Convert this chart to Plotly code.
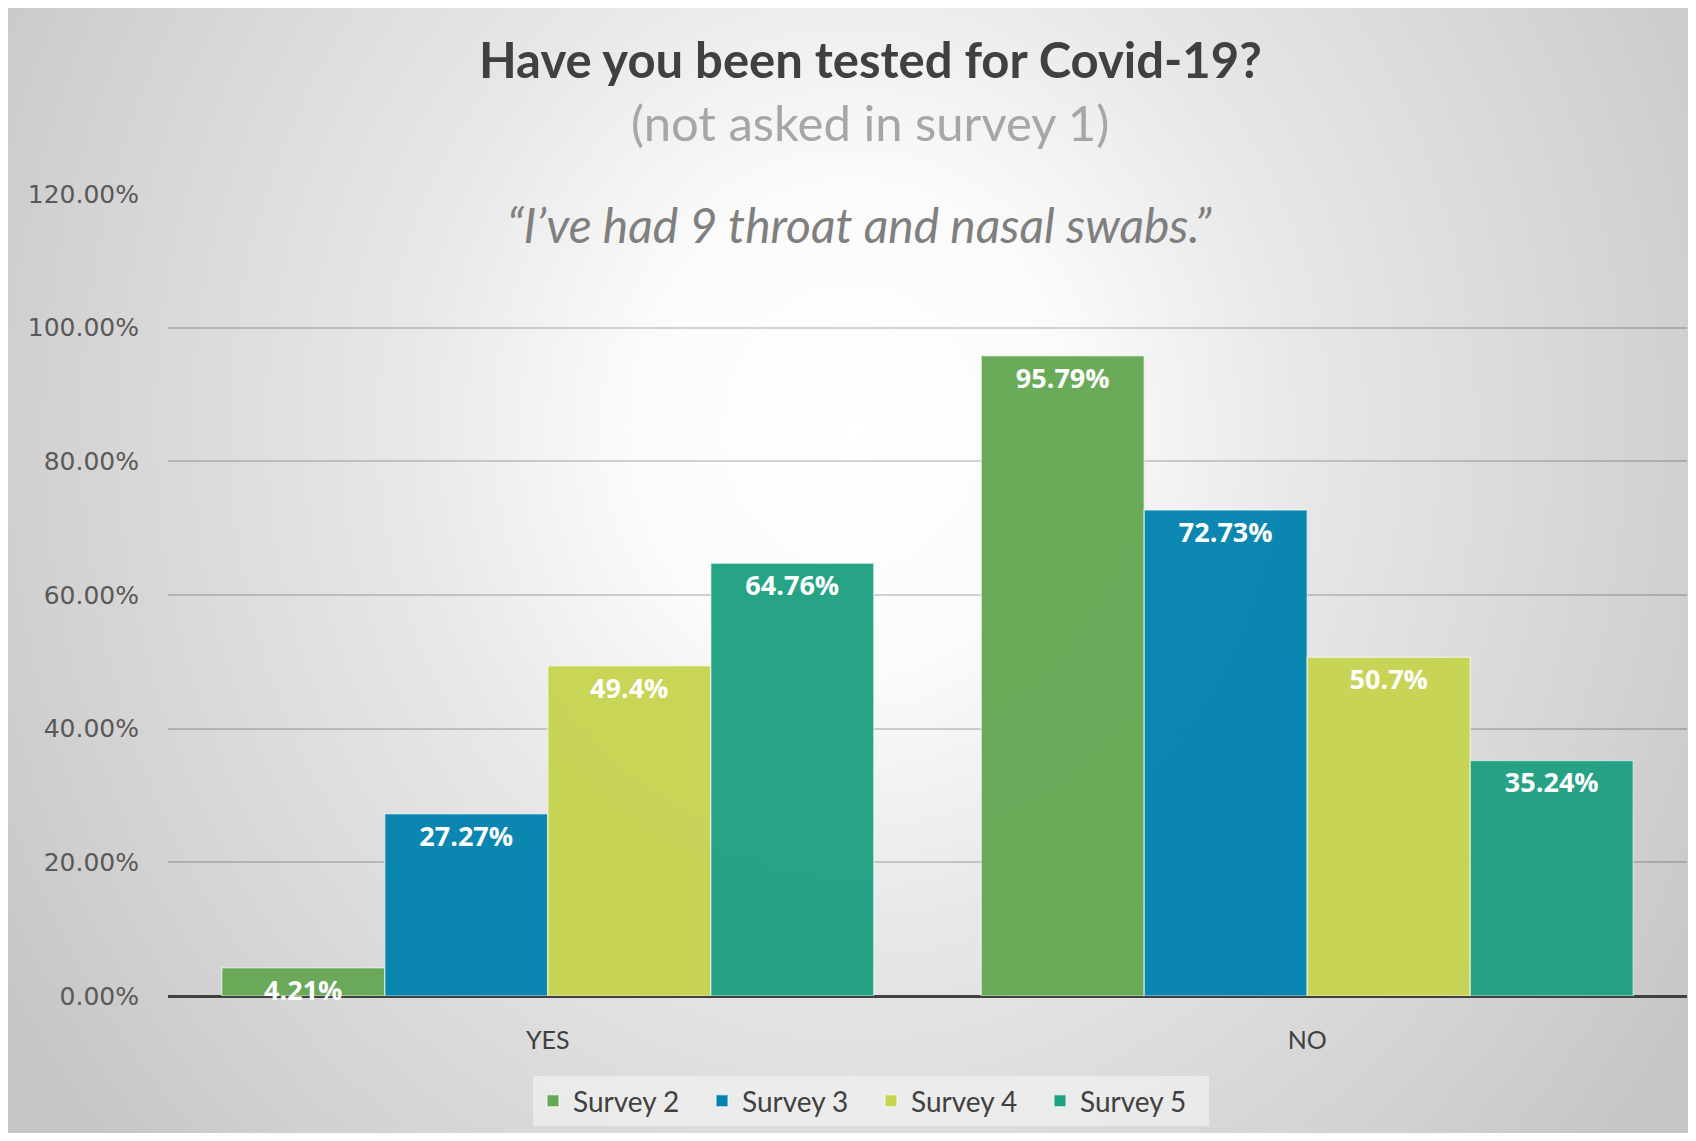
import base64
import plotly.graph_objects as go

# ---- data ----
categories = ["YES", "NO"]
series_names = ["Survey 2", "Survey 3", "Survey 4", "Survey 5"]
survey2 = [4.21, 95.79]
survey3 = [27.27, 72.73]
survey4 = [49.4, 50.7]
survey5 = [64.76, 35.24]
y_ticks = [0, 20, 40, 60, 80, 100, 120]

title_text = "Have you been tested for Covid-19?"
subtitle_text = "(not asked in survey 1)"
quote_text = "\u201cI\u2019ve had 9 throat and nasal swabs.\u201d"

colors = ["#65a854", "#0283af", "#c7d451", "#1fa182"]

W, H = 1680, 1125
ML, MR, MT, MB = 160, 1, 186, 137
PW, PH = W - ML - MR, H - MT - MB

# background gradient as svg image
svg = f'''<svg xmlns="http://www.w3.org/2000/svg" width="{W}" height="{H}" viewBox="0 0 {W} {H}" preserveAspectRatio="none">
<defs><radialGradient id="g" gradientUnits="userSpaceOnUse" cx="0" cy="0" r="1" gradientTransform="translate(845,420) scale(990,1100)">
<stop offset="0" stop-color="#ffffff"/>
<stop offset="0.22" stop-color="#fbfbfb"/>
<stop offset="0.45" stop-color="#e8e8e8"/>
<stop offset="0.85" stop-color="#d0d0d0"/>
<stop offset="1" stop-color="#c6c6c6"/>
</radialGradient></defs>
<rect x="0" y="0" width="{W}" height="{H}" fill="url(#g)"/>
</svg>'''
src = "data:image/svg+xml;base64," + base64.b64encode(svg.encode()).decode()

fig = go.Figure()
for name, vals, col in zip(series_names, [survey2, survey3, survey4, survey5], colors):
    fig.add_trace(go.Bar(
        name=name, x=categories, y=vals,
        text=[f"{v:g}%" for v in vals],
        textposition="inside", insidetextanchor="end", constraintext="none",
        cliponaxis=False,
        textfont=dict(family="Open Sans", size=27, color="white", weight="bold"),
        marker=dict(color=col, opacity=0.96, line=dict(color="rgba(255,255,255,0.55)", width=1.5)),
        hoverinfo="skip",
    ))

def py(fy):
    return (H - MB - fy) / PH

def px(fx):
    return (fx - ML) / PW

fig.update_layout(
    width=W, height=H,
    margin=dict(l=ML, r=MR, t=MT, b=MB),
    paper_bgcolor="white", plot_bgcolor="rgba(0,0,0,0)",
    barmode="group", bargap=0.1415, bargroupgap=0,
    showlegend=True,
    legend=dict(orientation="h", x=px(863), xanchor="center", y=py(1093), yanchor="middle",
                bgcolor="rgba(245,245,245,0.6)", font=dict(family="Lato", size=28, color="#404040"),
                itemwidth=30, entrywidth=124, entrywidthmode="pixels", traceorder="normal"),
    images=[dict(source=src, xref="paper", yref="paper", x=px(0), y=py(0),
                 sizex=W / PW, sizey=H / PH, xanchor="left", yanchor="top",
                 sizing="stretch", layer="below")],
    xaxis=dict(showgrid=False, showline=False, ticks="", ticklabelstandoff=27,
               tickfont=dict(family="Lato", size=25, color="#404040")),
    yaxis=dict(range=[0, 120], tickvals=y_ticks, ticktext=[f"{t:.2f}%" for t in y_ticks],
               showgrid=True, gridcolor="rgba(0,0,0,0.17)", gridwidth=1.5,
               zeroline=True, zerolinecolor="#404040", zerolinewidth=3,
               showline=False, ticks="", ticklabelstandoff=28,
               tickfont=dict(family="DejaVu Sans", size=25, color="#595959")),
    annotations=[
        dict(text=f"<b>{title_text}</b>", xref="paper", yref="paper", x=px(862), y=py(51),
             xanchor="center", yanchor="middle", showarrow=False,
             font=dict(family="Lato", size=49, color="#404040")),
        dict(text=subtitle_text, xref="paper", yref="paper", x=px(862), y=py(114),
             xanchor="center", yanchor="middle", showarrow=False,
             font=dict(family="Lato", size=49, color="#a6a6a6")),
        dict(text=f"<i>{quote_text}</i>", xref="paper", yref="paper", x=px(851), y=py(217),
             xanchor="center", yanchor="middle", showarrow=False,
             font=dict(family="Lato", size=48, color="#7f7f7f")),
    ],
)

fig.write_html("out.html")
